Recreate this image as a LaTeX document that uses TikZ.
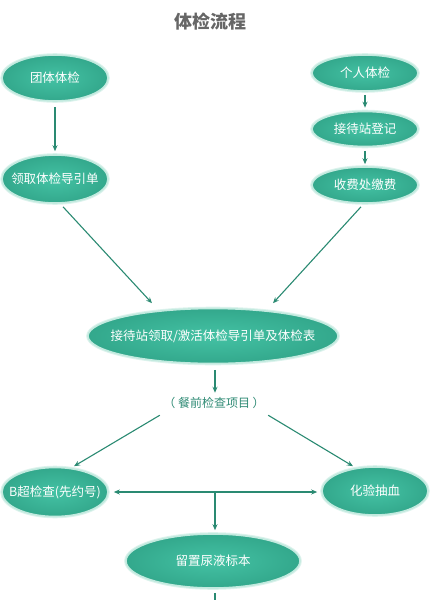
\documentclass[tikz,border=0pt]{standalone}
\usepackage{fontspec}
\setmainfont{Noto Sans CJK SC}
\usetikzlibrary{shapes.geometric,arrows.meta,calc}
\definecolor{tealfill}{HTML}{33A88C}
\definecolor{tealin}{HTML}{44C2A4}
\definecolor{tealedge}{HTML}{C2EADF}
\definecolor{arrowc}{HTML}{2A8A72}
\definecolor{titlec}{HTML}{666666}
\definecolor{notec}{HTML}{2E8A74}
\tikzset{
  oval/.style={ellipse, preaction={draw=tealedge!55, line width=3.6pt},
    inner color=tealin, outer color=tealfill, draw=tealedge, line width=1.6pt,
    text=white, font=\fontsize{12.5}{14}\selectfont, inner sep=-22pt},
  conn/.style={draw=arrowc, line width=1.1pt, -{Stealth[length=6pt,width=5pt]}},
  plain/.style={draw=arrowc, line width=1.1pt}
}
\begin{document}
\begin{tikzpicture}[x=1pt,y=-1pt]
\useasboundingbox (0,0) rectangle (431,600);
\node[text=titlec, font=\fontsize{18}{20}\selectfont\bfseries] (title) at (210,22) {体检流程};

\node[oval, minimum width=106pt, minimum height=46pt] (tuan) at (55,78) {团体体检};
\node[oval, minimum width=106pt, minimum height=48pt] (lq) at (55,179) {领取体检导引单};

\node[oval, minimum width=106pt, minimum height=36pt] (ge) at (365,73) {个人体检};
\node[oval, minimum width=106pt, minimum height=35pt] (dj) at (365,129) {接待站登记};
\node[oval, minimum width=106pt, minimum height=36pt] (sf) at (365,185) {收费处缴费};

\node[oval, minimum width=250pt, minimum height=55pt] (main) at (213,336) {接待站领取/激活体检导引单及体检表};

\node[text=notec, font=\fontsize{12}{14}\selectfont] (note) at (214,403) {（ 餐前检查项目 ）};

\node[oval, minimum width=106pt, minimum height=49pt] (bc) at (55,492) {B超检查(先约号)};
\node[oval, minimum width=106pt, minimum height=48pt] (hy) at (375,491) {化验抽血};
\node[oval, minimum width=174pt, minimum height=54pt] (ny) at (213,561) {留置尿液标本};

\coordinate (j) at (215,492);
\coordinate (nyend) at (215,600);

\draw[conn, shorten <=5pt, shorten >=3pt] (tuan.south) -- (lq.north);
\draw[conn, shorten <=3pt, shorten >=3pt] (ge.south) -- (dj.north);
\draw[conn, shorten <=3.5pt, shorten >=2pt] (dj.south) -- (sf.north);
\draw[conn] ($(lq.south)+(8,3)$) -- ($(main.north)+(-61,-4.5)$);
\draw[conn] ($(sf.south)+(-4,3)$) -- ($(main.north)+(60,-4.5)$);
\draw[conn, shorten <=5.5pt, shorten >=1pt] (main.south -| j) -- (note.north -| j);
\draw[conn] ($(note.south west)+(0,3)$) -- ($(bc.north)+(19,-0.5)$);
\draw[conn] ($(note.south east)+(0,3)$) -- ($(hy.north)+(-22,0)$);
\draw[conn] (j) -- ([xshift=5pt]j -| bc.east);
\draw[conn] (j) -- ([xshift=-4pt]j -| hy.west);
\draw[conn, shorten >=3pt] (j) -- (j |- ny.north);
\draw[plain, shorten <=4pt] (ny.south -| j) -- (nyend);
\end{tikzpicture}
\end{document}
